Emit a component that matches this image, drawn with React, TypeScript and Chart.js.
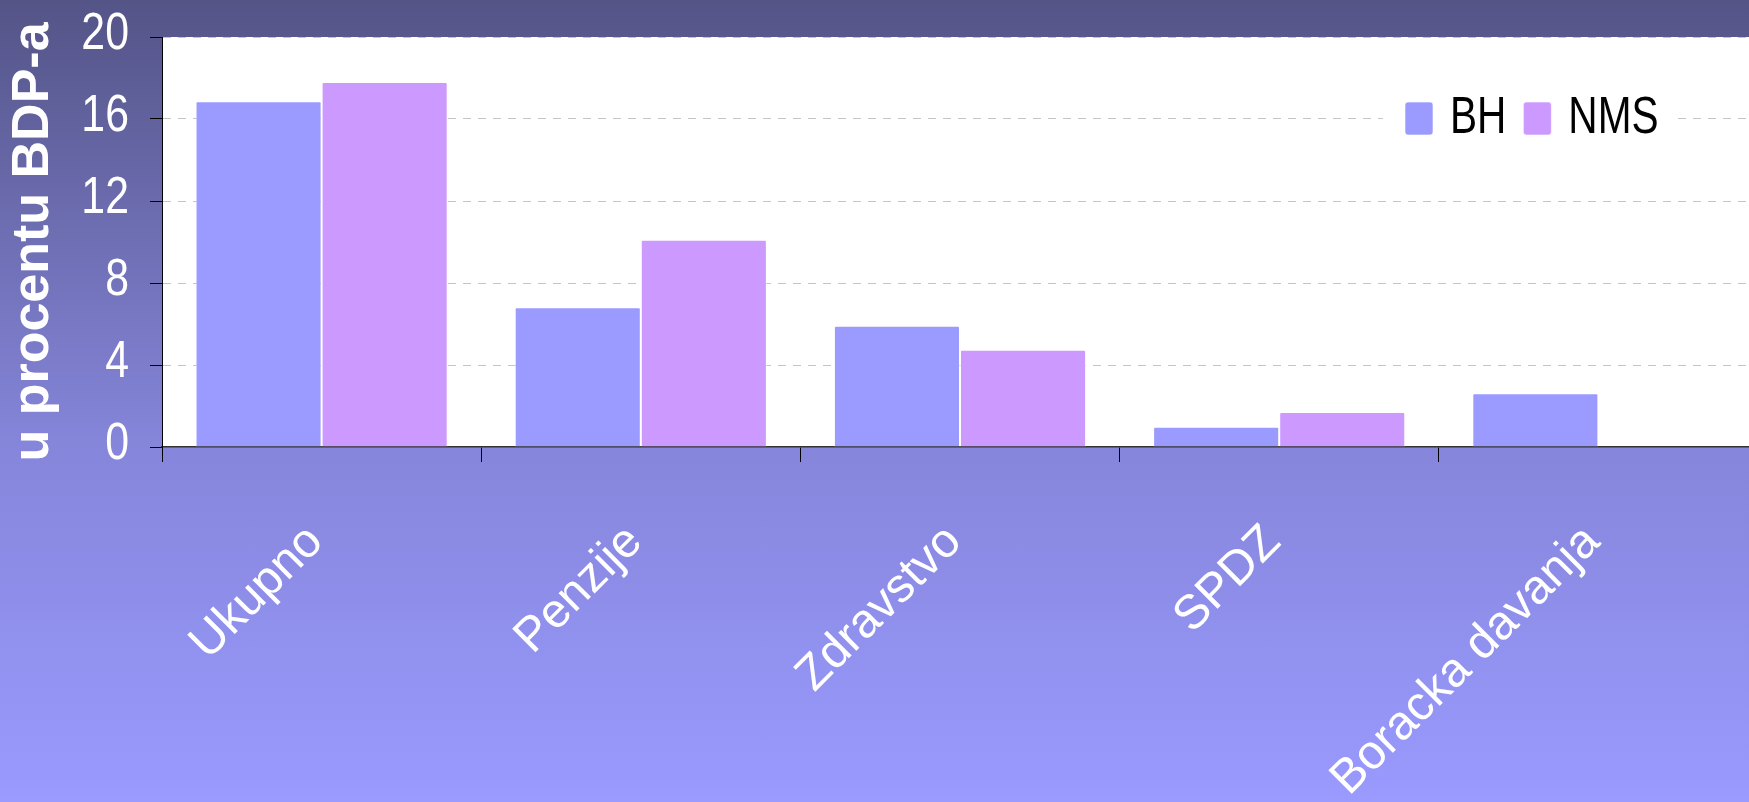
import { useEffect, useRef } from 'react';
import { Chart, registerables } from 'chart.js';

Chart.register(...registerables);

const categories = ['Ukupno', 'Penzije', 'Zdravstvo', 'SPDZ', 'Boracka davanja'];
const bhValues = [16.86, 6.82, 5.91, 0.99, 2.62];
const nmsValues: (number | null)[] = [17.8, 10.11, 4.74, 1.71, null];
const seriesLabels = ['BH', 'NMS'];
const seriesColors = ['#9b9bff', '#cc99ff'];
const yTickValues = [0, 4, 8, 12, 16, 20];
const yTitle = 'u procentu BDP-a';

const NARROW = 0.84;

const plotBackground = {
  id: 'plotBackground',
  beforeDraw(chart: any) {
    const { ctx, chartArea } = chart;
    ctx.save();
    ctx.fillStyle = '#ffffff';
    ctx.fillRect(chartArea.left, chartArea.top, chartArea.right - chartArea.left, chartArea.bottom - chartArea.top);
    ctx.restore();
  },
};

// y tick labels in a narrow face (the library's scale gives the values and positions)
const narrowYTicks = {
  id: 'narrowYTicks',
  afterDraw(chart: any) {
    const { ctx } = chart;
    const scale = chart.scales.y;
    ctx.save();
    ctx.font = '51px "Liberation Sans", Arial, sans-serif';
    ctx.fillStyle = '#ffffff';
    ctx.textAlign = 'right';
    ctx.textBaseline = 'middle';
    const right = scale.right - 12 - 21;
    scale.ticks.forEach((t: any) => {
      const y = scale.getPixelForValue(t.value);
      ctx.save();
      ctx.translate(right, y - 2);
      ctx.scale(NARROW, 1);
      ctx.fillText(String(t.label ?? t.value), 0, 0);
      ctx.restore();
    });
    ctx.restore();
  },
};

const insideLegend = {
  id: 'insideLegend',
  afterDatasetsDraw(chart: any) {
    const { ctx } = chart;
    const squeeze = 0.78;
    ctx.save();
    ctx.font = '52px "Liberation Sans", Arial, sans-serif';
    const startX = 1405;
    const boxW = 28;
    const boxH = 33;
    const boxTop = 102;
    const baseline = 133;
    const gap = 17;
    const items = chart.data.datasets.map((d: any) => ({ label: d.label, color: d.backgroundColor }));
    let total = 0;
    items.forEach((it: any, i: number) => {
      total += boxW + gap + ctx.measureText(it.label).width * squeeze + (i < items.length - 1 ? gap : 0);
    });
    ctx.fillStyle = '#ffffff';
    ctx.fillRect(startX - 22, 82, total + 40, 70);
    let x = startX;
    items.forEach((it: any) => {
      ctx.fillStyle = it.color;
      ctx.beginPath();
      (ctx as any).roundRect(x, boxTop, boxW, boxH, 3);
      ctx.fill();
      ctx.strokeStyle = 'rgba(255,255,255,0.6)';
      ctx.lineWidth = 1;
      ctx.stroke();
      x += boxW + gap;
      ctx.save();
      ctx.translate(x, baseline);
      ctx.scale(squeeze, 1);
      ctx.fillStyle = '#000000';
      ctx.textBaseline = 'alphabetic';
      ctx.textAlign = 'left';
      ctx.fillText(it.label, 0, 0);
      ctx.restore();
      x += ctx.measureText(it.label).width * squeeze + gap;
    });
    ctx.restore();
  },
};

export default function App() {
  const canvasRef = useRef<HTMLCanvasElement | null>(null);

  useEffect(() => {
    if (!canvasRef.current) return;
    const chart = new Chart(canvasRef.current, {
      type: 'bar',
      data: {
        labels: categories,
        datasets: [
          {
            label: seriesLabels[0],
            data: bhValues,
            backgroundColor: seriesColors[0],
            borderColor: 'rgba(255,255,255,0.55)',
            borderWidth: 1,
            borderRadius: 2,
            categoryPercentage: 0.79,
            barPercentage: 1.0,
          },
          {
            label: seriesLabels[1],
            data: nmsValues,
            backgroundColor: seriesColors[1],
            borderColor: 'rgba(255,255,255,0.55)',
            borderWidth: 1,
            borderRadius: 2,
            categoryPercentage: 0.79,
            barPercentage: 1.0,
          },
        ],
      },
      options: {
        responsive: false,
        animation: false,
        maintainAspectRatio: false,
        layout: { padding: { top: 37, left: 0, right: 2, bottom: 0 } },
        plugins: {
          legend: { display: false },
          tooltip: { enabled: false },
        },
        scales: {
          x: {
            offset: true,
            grid: {
              display: true,
              drawOnChartArea: false,
              drawTicks: true,
              tickLength: 15,
              tickColor: '#000000',
              offset: true,
            },
            border: { display: true, color: '#333333', width: 1.5 },
            ticks: {
              color: '#ffffff',
              font: { family: '"Liberation Sans", Arial, sans-serif', size: 48 },
              minRotation: 45,
              maxRotation: 45,
              autoSkip: false,
              padding: 52,
              labelOffset: -6,
            },
            afterFit: (scale: any) => {
              scale.height = 355;
              scale.paddingLeft = 0;
              scale.paddingRight = 0;
            },
          },
          y: {
            min: 0,
            max: 20,
            afterBuildTicks: (scale: any) => {
              scale.ticks = yTickValues.map((v) => ({ value: v }));
            },
            grid: {
              color: (c: any) => (c.tick && c.tick.value === 0 ? 'rgba(0,0,0,0)' : '#c4c4c4'),
              lineWidth: 1,
              drawTicks: true,
              tickLength: 12,
              tickColor: '#000000',
              tickWidth: 1,
            },
            border: { display: true, color: '#000000', width: 1, dash: [8, 7] },
            ticks: {
              display: false,
              color: '#ffffff',
              font: { family: '"Liberation Sans", sans-serif', size: 51 },
              padding: 21,
            },
            title: {
              display: true,
              text: yTitle,
              color: '#ffffff',
              font: { family: '"Liberation Sans", Arial, sans-serif', size: 52, weight: 'bold' },
              padding: { top: 2, bottom: 0 },
            },
            afterFit: (scale: any) => {
              scale.width = 162;
              scale.paddingTop = 0;
              scale.paddingBottom = 0;
            },
          },
        },
      },
      plugins: [plotBackground, narrowYTicks, insideLegend],
    });
    return () => chart.destroy();
  }, []);

  return (
    <div
      style={{
        position: 'fixed',
        left: 0,
        top: 0,
        width: 1749,
        height: 802,
        overflow: 'hidden',
        background: 'linear-gradient(to bottom, #545487 0%, #8585da 55%, #9a9aff 100%)',
      }}
    >
      <canvas ref={canvasRef} width={1760} height={802} style={{ display: 'block' }} />
    </div>
  );
}
